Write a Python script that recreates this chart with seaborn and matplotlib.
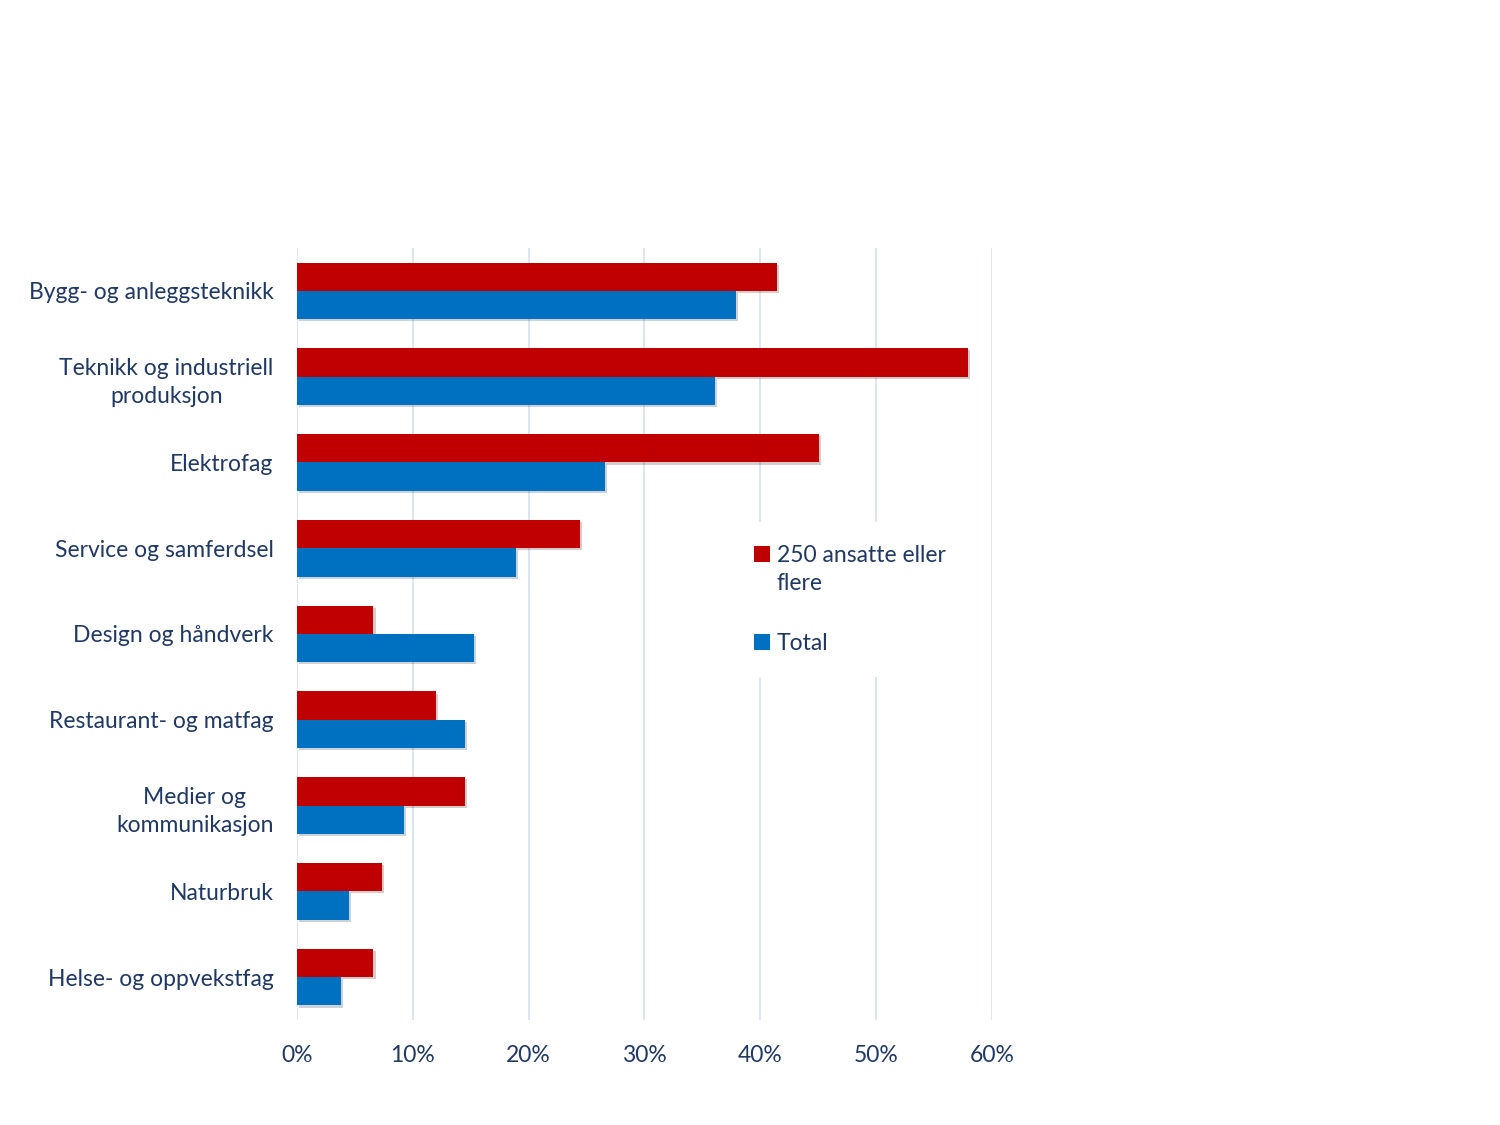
import pandas as pd
import matplotlib
import matplotlib.pyplot as plt
import matplotlib.patheffects as pe
from matplotlib.patches import Rectangle
from matplotlib.legend_handler import HandlerPatch
import seaborn as sns
from matplotlib.ticker import PercentFormatter

matplotlib.use('Agg')

# Data
categories = [
    "Bygg- og anleggsteknikk",
    "Teknikk og industriell\nproduksjon",
    "Elektrofag",
    "Service og samferdsel",
    "Design og håndverk",
    "Restaurant- og matfag",
    "Medier og\nkommunikasjon",
    "Naturbruk",
    "Helse- og oppvekstfag",
]
large_firms = [0.414, 0.579, 0.451, 0.244, 0.066, 0.120, 0.145, 0.073, 0.066]
total = [0.379, 0.361, 0.266, 0.189, 0.153, 0.145, 0.092, 0.045, 0.038]
series_names = ["250 ansatte eller\nflere", "Total"]

df = pd.DataFrame({
    "kategori": categories * 2,
    "andel": large_firms + total,
    "serie": [series_names[0]] * len(categories) + [series_names[1]] * len(categories),
})

text_color = "#1F3864"
colors = {series_names[0]: "#C00000", series_names[1]: "#0070C0"}


class TopSquare(HandlerPatch):
    # legend square aligned with the first line of a wrapped label
    def __init__(self, shift):
        super().__init__()
        self.shift = shift

    def create_artists(self, legend, orig_handle, xdescent, ydescent,
                       width, height, fontsize, trans):
        r = Rectangle((-xdescent, -ydescent + self.shift), width, height,
                      facecolor=orig_handle.get_facecolor(), edgecolor="none",
                      transform=trans)
        return [r]


sns.set_style("white")
plt.rcParams['font.family'] = ['Lato', 'DejaVu Sans']

fig = plt.figure(figsize=(15, 11.25), dpi=100)
ax = fig.add_axes([0.198, 0.0933, 0.4633, 0.6863])

sns.barplot(data=df, y="kategori", x="andel", hue="serie", palette=colors,
            width=0.66, orient="h", ax=ax, saturation=1, zorder=2,
            linewidth=0, edgecolor="none")

# subtle shadow like the original
for bar in ax.patches:
    bar.set_path_effects([pe.SimplePatchShadow(offset=(1.5, -1.5), alpha=0.2), pe.Normal()])

ax.set_xlim(0, 0.6)
ax.set_ylim(8.5, -0.5)
ax.xaxis.set_major_formatter(PercentFormatter(1.0, decimals=0))
ax.set_xticks([0, 0.1, 0.2, 0.3, 0.4, 0.5, 0.6])
ax.grid(axis="x", color="#D6E0EE", linewidth=1.2, zorder=0)
ax.set_axisbelow(True)
for s in ax.spines.values():
    s.set_visible(False)

ax.set_xlabel("")
ax.set_ylabel("")
ax.tick_params(axis="both", length=0, labelsize=16.5, colors=text_color)
ax.tick_params(axis="x", pad=18)
ax.tick_params(axis="y", pad=17)
for lbl in ax.get_yticklabels():
    lbl.set_multialignment("center")
    lbl.set_linespacing(1.45)

handles, labels = ax.get_legend_handles_labels()
leg = ax.legend(handles, labels, loc="upper left", bbox_to_anchor=(0.608, 0.66), frameon=True,
                fontsize=16.5, handlelength=0.7, handleheight=0.7, handletextpad=0.3,
                labelspacing=1.7, borderpad=1.0, labelcolor=text_color,
                handler_map={handles[0]: TopSquare(11.5), handles[1]: TopSquare(0)})
for t in leg.get_texts():
    t.set_linespacing(1.45)
leg.get_frame().set_facecolor("white")
leg.get_frame().set_edgecolor("none")
leg.get_frame().set_alpha(1)
leg.set_zorder(5)

fig.savefig("out.png", dpi=100)
